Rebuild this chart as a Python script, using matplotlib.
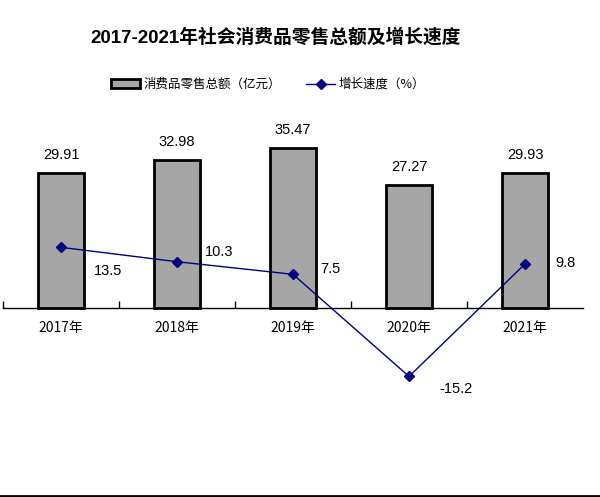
import matplotlib
matplotlib.use("Agg")
import matplotlib.pyplot as plt
from matplotlib.lines import Line2D
import numpy as np

plt.rcParams['font.family'] = ['Liberation Sans', 'Noto Sans CJK SC', 'DejaVu Sans']

# Data
years = ['2017年', '2018年', '2019年', '2020年', '2021年']
sales = [29.91, 32.98, 35.47, 27.27, 29.93]
growth = [13.5, 10.3, 7.5, -15.2, 9.8]

# label offsets for the growth values (points)
growth_offsets = [(34, -17), (30, 7), (27, 4), (34, -9), (29, 1)]

fig = plt.figure(figsize=(6.0, 4.97), dpi=100)
ax = fig.add_axes([0.005, 0.018, 0.9667, 0.7243])

x = np.arange(len(years))
bars = ax.bar(x, sales, width=0.4, color='#a6a6a6', edgecolor='black', linewidth=2,
              label='消费品零售总额（亿元）', zorder=2)
line, = ax.plot(x, growth, color='#000080', marker='D', markersize=5, linewidth=1,
                label='增长速度（%）', zorder=3)

# Bar labels
for xi, v in zip(x, sales):
    ax.annotate(f'{v:.2f}', (xi, v), xytext=(0, 13), textcoords='offset points',
                ha='center', va='center', fontsize=10.5)

# Growth labels
for xi, v, off in zip(x, growth, growth_offsets):
    ax.annotate(f'{v}', (xi, v), xytext=off, textcoords='offset points',
                ha='center', va='center', fontsize=10.5)

ax.set_xlim(-0.5, 4.5)
ax.set_ylim(-40, 40)

for s in ['top', 'right', 'left']:
    ax.spines[s].set_visible(False)
ax.spines['bottom'].set_position(('data', 0))
ax.spines['bottom'].set_linewidth(1)
ax.set_yticks([])

ax.set_xticks(x)
ax.set_xticklabels(years, fontsize=10, family=['Noto Sans CJK SC', 'DejaVu Sans'])
ax.tick_params(axis='x', which='major', length=0, pad=9)
ax.set_xticks([-0.5, 0.5, 1.5, 2.5, 3.5], minor=True)
ax.tick_params(axis='x', which='minor', direction='in', length=5, width=1)

fig.text(0.46, 0.925, '2017-2021年社会消费品零售总额及增长速度', ha='center', va='center',
         fontsize=13.5, fontweight='bold', family=['Liberation Sans', 'Noto Sans CJK SC'])

fig.legend([bars, line], ['消费品零售总额（亿元）', '增长速度（%）'],
           loc='center', bbox_to_anchor=(0.447, 0.83), ncol=2, frameon=False,
           handlelength=2.3, columnspacing=2.0, handletextpad=0.3,
           prop={'family': ['Noto Sans CJK SC', 'DejaVu Sans'], 'size': 9})

fig.add_artist(Line2D([0, 1], [0.002, 0.002], color='black', linewidth=2,
                      transform=fig.transFigure))

fig.savefig('out.png', dpi=100)
